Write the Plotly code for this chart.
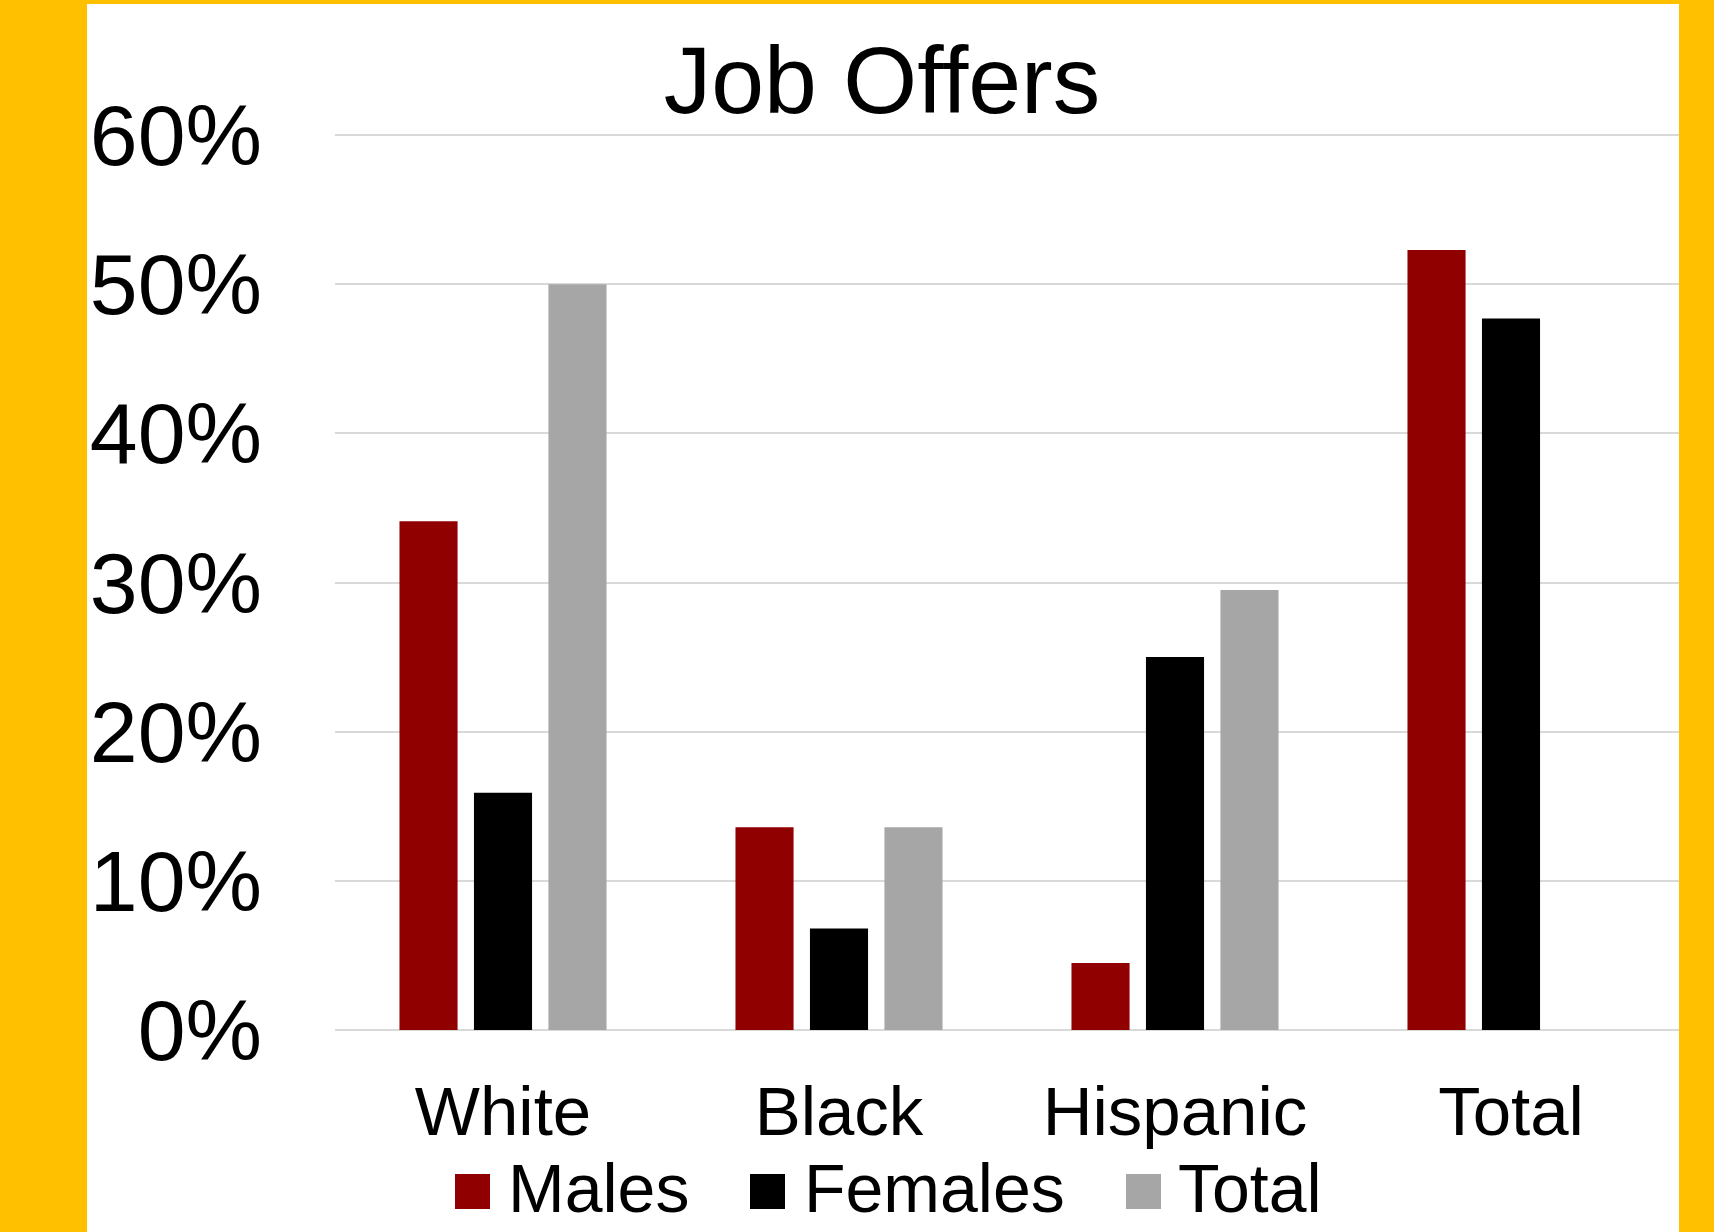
import plotly.graph_objects as go

categories = ["White", "Black", "Hispanic", "Total"]
males = [0.341, 0.136, 0.045, 0.523]
females = [0.159, 0.068, 0.25, 0.477]
total = [0.50, 0.136, 0.295, None]
series_names = ["Males", "Females", "Total"]
series_colors = ["#900000", "#000000", "#A6A6A6"]
y_ticks = [0, 0.1, 0.2, 0.3, 0.4, 0.5, 0.6]
y_tick_labels = ["0%", "10%", "20%", "30%", "40%", "50%", "60%"]

W, H = 1714, 1232
L, R, T, B = 335, 35, 134, 202
PW, PH = W - L - R, H - T - B
FONT = "Liberation Sans, Arial, sans-serif"


def px_x(px):
    return (px - L) / PW


def px_y(py):
    return (H - B - py) / PH


fig = go.Figure()
for name, vals, col in zip(series_names, [males, females, total], series_colors):
    fig.add_trace(go.Bar(x=categories, y=vals, name=name, marker_color=col,
                         marker_line_width=0, showlegend=False))

shapes = [
    # white card over yellow background
    dict(type="rect", xref="paper", yref="paper", x0=px_x(87), x1=px_x(1679),
         y0=px_y(H), y1=px_y(4), fillcolor="white", line_width=0, layer="below"),
]
annotations = []
legend_sq_x = [455, 750, 1126]
legend_txt_x = [506, 802, 1176]
for sx, tx, name, col in zip(legend_sq_x, legend_txt_x, series_names, series_colors):
    shapes.append(dict(type="rect", xref="paper", yref="paper", x0=px_x(sx), x1=px_x(sx + 35),
                       y0=px_y(1209), y1=px_y(1174), fillcolor=col, line_width=0))
    annotations.append(dict(text=name, xref="paper", yref="paper", x=px_x(tx), y=px_y(1188),
                            xanchor="left", yanchor="middle", showarrow=False,
                            font=dict(family=FONT, size=68, color="black")))

fig.update_layout(
    width=W, height=H,
    margin=dict(l=L, r=R, t=T, b=B, pad=0),
    paper_bgcolor="#FFC000",
    plot_bgcolor="rgba(0,0,0,0)",
    barmode="group", bargap=0.335, bargroupgap=0.22,
    title=dict(text="Job Offers", x=882 / W, xanchor="center", y=1 - 80 / H, yanchor="middle",
               font=dict(family=FONT, size=95, color="black")),
    shapes=shapes, annotations=annotations,
    showlegend=False,
    font=dict(family=FONT, color="black"),
)
fig.update_xaxes(range=[-0.5, 3.5], showgrid=False, zeroline=False, showline=False, ticks="",
                 tickfont=dict(family=FONT, size=69, color="black"), ticklabelstandoff=35)
fig.update_yaxes(range=[0, 0.6007], tickvals=y_ticks, ticktext=y_tick_labels, showgrid=True,
                 gridcolor="#D9D9D9", gridwidth=2, zeroline=True, zerolinecolor="#D9D9D9",
                 zerolinewidth=2, showline=False, ticks="",
                 tickfont=dict(family=FONT, size=86, color="black"), ticklabelstandoff=72)

fig.write_html("out.html")
